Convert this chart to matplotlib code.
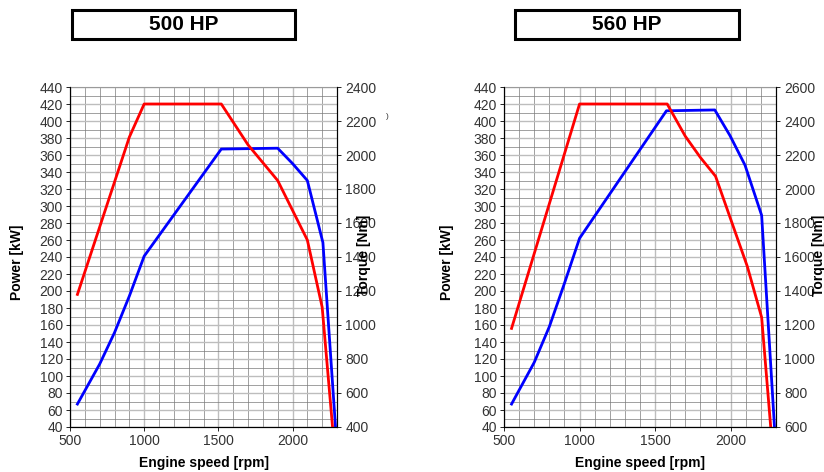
import matplotlib.pyplot as plt
from matplotlib.ticker import MultipleLocator
from matplotlib.patches import Rectangle

plt.rcParams['font.family'] = ['Liberation Sans', 'DejaVu Sans']

# 500 HP engine
rpm_500_power = [550, 700, 800, 900, 1000, 1520, 1900, 2000, 2100, 2205, 2290]
power_500 = [67, 114, 151, 194, 241, 367, 368, 350, 330, 257, 40]
rpm_500_torque = [550, 900, 1000, 1520, 1700, 1900, 2100, 2200, 2270]
torque_500 = [1180, 2105, 2300, 2300, 2060, 1850, 1500, 1105, 400]

# 560 HP engine
rpm_560_power = [550, 700, 800, 900, 1000, 1575, 1895, 1995, 2095, 2205, 2290]
power_560 = [67, 116, 158, 209, 262, 412, 413, 383, 348, 289, 40]
rpm_560_torque = [550, 1000, 1580, 1700, 1800, 1900, 2110, 2205, 2265]
torque_560 = [1180, 2500, 2500, 2310, 2185, 2075, 1545, 1245, 600]

titles = ['500 HP', '560 HP']
torque_ranges = [(400, 2400), (600, 2600)]

fig = plt.figure(figsize=(8.24, 4.72), dpi=100)
W, H = 824, 472

panels = [
    (70, 337, rpm_500_power, power_500, rpm_500_torque, torque_500),
    (504, 776, rpm_560_power, power_560, rpm_560_torque, torque_560),
]
boxes = [(72, 295), (515, 739)]
torque_label_x = [364, 819]
power_label_x = [17, 447]

for i, (x0, x1, rp, pw, rt, tq) in enumerate(panels):
    ax = fig.add_axes([x0 / W, 1 - 427 / H, (x1 - x0) / W, 340 / H])
    ax.set_xlim(500, 2300)
    ax.set_ylim(40, 440)
    ax.xaxis.set_major_locator(MultipleLocator(500))
    ax.xaxis.set_minor_locator(MultipleLocator(100))
    ax.yaxis.set_major_locator(MultipleLocator(20))
    ax.yaxis.set_minor_locator(MultipleLocator(10))
    ax.grid(which='major', color='#bdbdbd', lw=1.0)
    ax.grid(which='minor', color='#7a7a7a', lw=0.5)
    ax.tick_params(which='both', labelsize=10, labelcolor='#333333', length=3, width=0.6, pad=2)
    ax.tick_params(which='minor', length=0)
    ax.spines['top'].set_color('#9a9a9a')
    ax.plot(rp, pw, color='#0000ff', lw=2.0, solid_joinstyle='round')

    ax2 = ax.twinx()
    ax2.set_ylim(*torque_ranges[i])
    ax2.yaxis.set_major_locator(MultipleLocator(200))
    ax2.tick_params(labelsize=10, labelcolor='#333333', length=3, width=0.6, pad=3)
    ax2.spines['top'].set_visible(False)
    ax2.plot(rt, tq, color='#ff0000', lw=2.0, solid_joinstyle='round')

    ax.set_xlabel('Engine speed [rpm]', fontsize=10, fontweight='bold', labelpad=6)
    fig.text(power_label_x[i] / W, 1 - 262 / H, 'Power [kW]', rotation=90,
             ha='center', va='center', fontsize=10, fontweight='bold')
    fig.text(torque_label_x[i] / W, 1 - 255 / H, 'Torque [Nm]', rotation=90,
             ha='center', va='center', fontsize=10, fontweight='bold')

    bx0, bx1 = boxes[i]
    fig.patches.append(Rectangle((bx0 / W, 1 - 39 / H), (bx1 - bx0) / W, 29 / H,
                                 transform=fig.transFigure, fill=False,
                                 edgecolor='black', lw=2.2))
    fig.text((bx0 + bx1) / 2 / W, 1 - 24.5 / H, titles[i], ha='center', va='center',
             fontsize=15, fontweight='bold')

fig.text(387 / W, 1 - 116 / H, ')', fontsize=6, ha='center', va='center', color='#333333')

fig.savefig('out.png', dpi=100)
